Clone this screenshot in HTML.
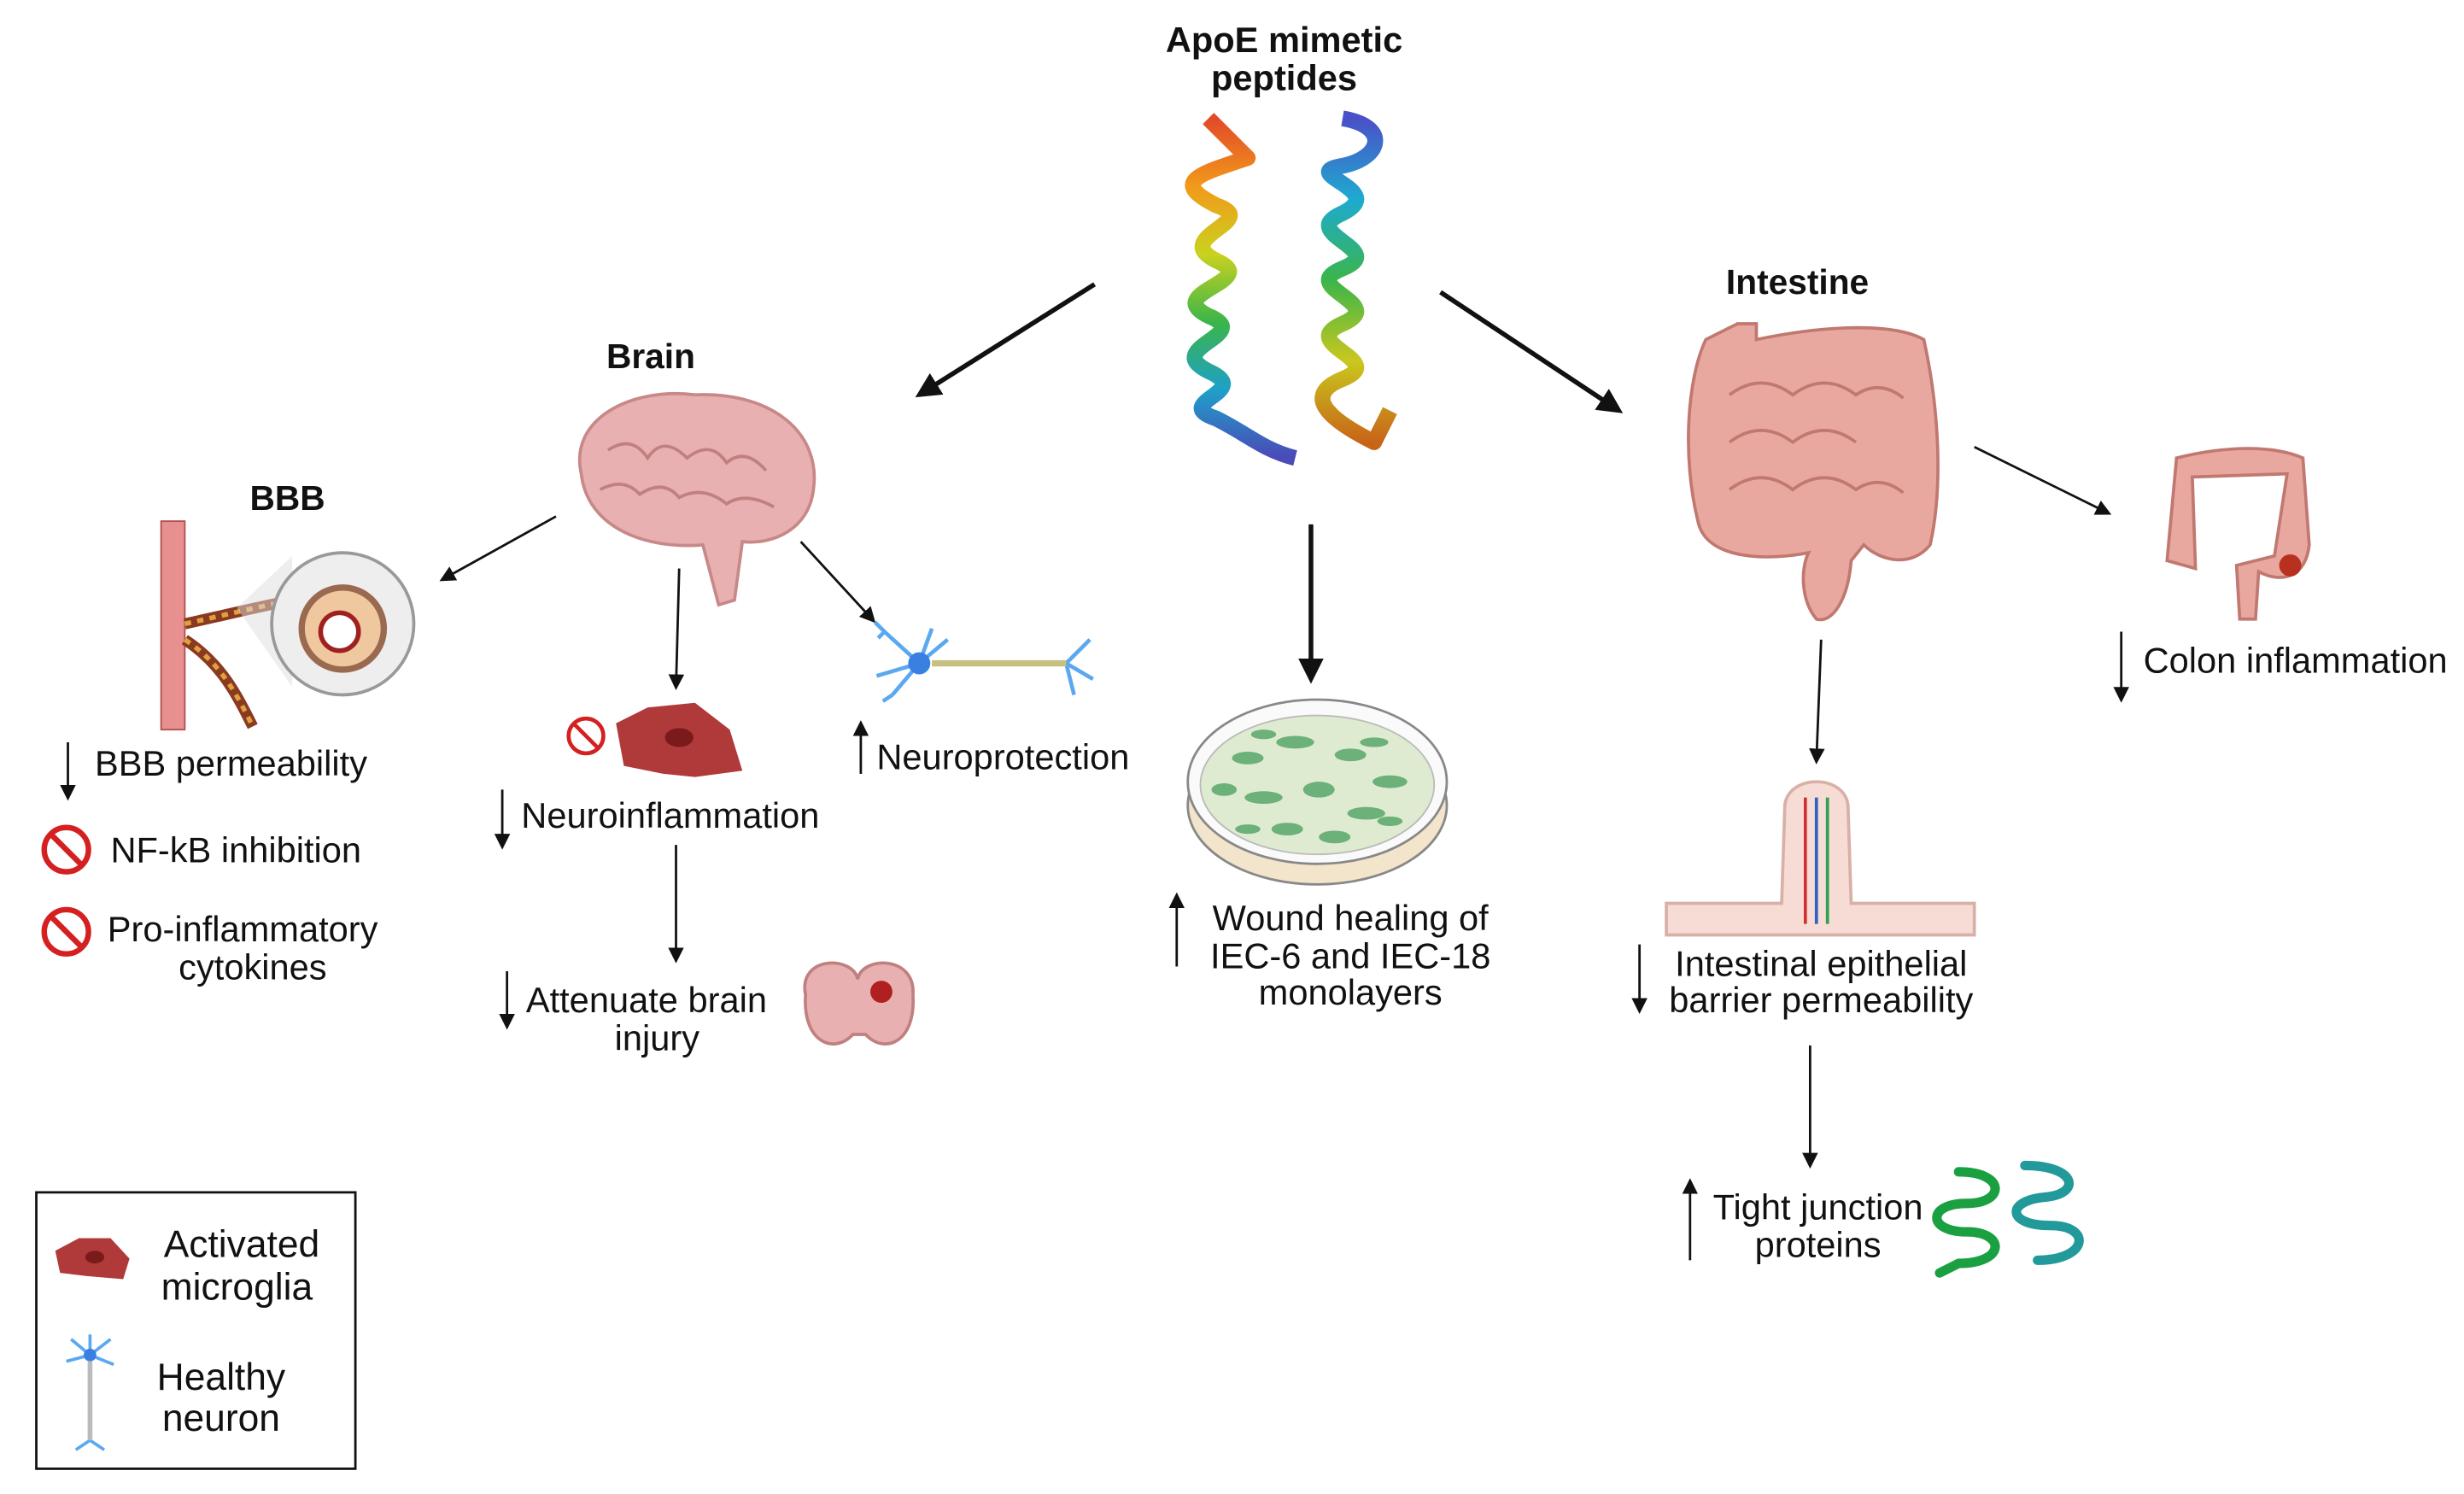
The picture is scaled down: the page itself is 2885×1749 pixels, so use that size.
<!DOCTYPE html>
<html><head><meta charset="utf-8"><style>
html,body{margin:0;padding:0;background:#fff;}
svg{display:block;}
text{font-family:"Liberation Sans",sans-serif;fill:#111;}
</style></head><body>
<svg width="2885" height="1749" viewBox="0 0 1560 946" preserveAspectRatio="none" xmlns="http://www.w3.org/2000/svg">
<defs>
<marker id="ah" markerWidth="10" markerHeight="10" refX="8" refY="5" orient="auto" markerUnits="userSpaceOnUse"><path d="M0,0 L10,5 L0,10 Z" fill="#111"/></marker>
<marker id="ahb" markerWidth="16" markerHeight="16" refX="13" refY="8" orient="auto" markerUnits="userSpaceOnUse"><path d="M0,0 L16,8 L0,16 Z" fill="#111"/></marker>
<linearGradient id="rb1" x1="0" y1="0" x2="0" y2="1"><stop offset="0" stop-color="#e24a2a"/><stop offset=".2" stop-color="#f29a1a"/><stop offset=".4" stop-color="#c9d21e"/><stop offset=".6" stop-color="#3bb54a"/><stop offset=".8" stop-color="#1ea0c8"/><stop offset="1" stop-color="#4a4ab8"/></linearGradient>
<linearGradient id="rb2" x1="0" y1="0" x2="0" y2="1"><stop offset="0" stop-color="#4a50c8"/><stop offset=".25" stop-color="#1eaad0"/><stop offset=".5" stop-color="#3bb54a"/><stop offset=".75" stop-color="#c9c81e"/><stop offset="1" stop-color="#c86418"/></linearGradient>
</defs>

<text x="813" y="33" font-size="22.5" font-weight="bold" text-anchor="middle">ApoE mimetic</text>
<text x="813" y="57" font-size="22.5" font-weight="bold" text-anchor="middle">peptides</text>

<path d="M765,75 L790,100 C760,110 740,115 770,130 C800,140 740,150 770,165 C800,178 735,185 765,200 C795,212 735,220 765,235 C795,248 740,255 770,265 C790,275 800,285 820,290" fill="none" stroke="url(#rb1)" stroke-width="10" stroke-linejoin="round"/>
<path d="M850,75 C880,80 875,100 850,105 C820,110 880,120 850,135 C820,148 880,158 850,170 C820,182 880,192 850,205 C820,218 880,228 850,240 C820,252 850,270 870,280 L880,260" fill="none" stroke="url(#rb2)" stroke-width="10" stroke-linejoin="round"/>

<line x1="693" y1="180" x2="582" y2="250" stroke="#111" stroke-width="3" marker-end="url(#ahb)"/>
<line x1="912" y1="185" x2="1025" y2="260" stroke="#111" stroke-width="3" marker-end="url(#ahb)"/>
<line x1="830" y1="332" x2="830" y2="430" stroke="#111" stroke-width="3" marker-end="url(#ahb)"/>

<text x="412" y="233" font-size="22" font-weight="bold" text-anchor="middle">Brain</text>
<path d="M368,300 C360,265 400,245 440,250 C490,248 520,275 515,310 C512,335 490,345 470,343 L465,380 L455,383 L445,345 C410,348 372,335 368,300 Z" fill="#e8b0b0" stroke="#c88888" stroke-width="2"/>
<path d="M385,285 q15,-10 25,5 q10,-15 25,0 q15,-12 25,3 q12,-10 25,5 M380,310 q15,-8 25,3 q15,-10 25,2 q15,-8 30,4 q12,-8 30,2" fill="none" stroke="#c08080" stroke-width="2"/>

<text x="1138" y="186" font-size="22" font-weight="bold" text-anchor="middle">Intestine</text>
<path d="M1100,205 L1112,205 L1112,215 C1160,205 1200,205 1218,215 C1228,260 1230,310 1222,345 C1210,360 1190,355 1180,345 L1172,355 C1170,380 1160,395 1150,392 C1140,380 1140,360 1145,350 C1120,355 1080,355 1075,330 C1065,290 1068,240 1080,215 Z" fill="#e8a8a0" stroke="#c07870" stroke-width="2"/>
<path d="M1095,250 q20,-15 40,0 q20,-15 40,0 q15,-10 30,2 M1095,280 q20,-15 40,0 q20,-15 40,0 M1095,310 q20,-15 40,0 q20,-15 40,0 q15,-10 30,2" fill="none" stroke="#c07870" stroke-width="2"/>

<text x="182" y="323" font-size="22" font-weight="bold" text-anchor="middle">BBB</text>
<rect x="102" y="330" width="15" height="132" fill="#e89090" stroke="#b05050"/>
<path d="M117,395 C140,390 160,385 185,380 M117,405 C140,420 150,440 160,460" fill="none" stroke="#8a3a20" stroke-width="7"/>
<path d="M117,395 C140,390 160,385 185,380 M117,405 C140,420 150,440 160,460" fill="none" stroke="#e0a040" stroke-width="3" stroke-dasharray="4 4"/>
<path d="M150,385 L185,352 L185,435 Z" fill="#ddd" opacity=".5"/>
<circle cx="217" cy="395" r="45" fill="#eee" stroke="#999" stroke-width="2"/>
<circle cx="217" cy="398" r="26" fill="#f0c8a0" stroke="#9a6a50" stroke-width="4"/>
<circle cx="215" cy="400" r="12" fill="#fff" stroke="#a02020" stroke-width="3"/>

<line x1="352" y1="327" x2="280" y2="367" stroke="#111" stroke-width="1.5" marker-end="url(#ah)"/>
<line x1="430" y1="360" x2="428" y2="435" stroke="#111" stroke-width="1.5" marker-end="url(#ah)"/>
<line x1="507" y1="343" x2="553" y2="393" stroke="#111" stroke-width="1.5" marker-end="url(#ah)"/>

<line x1="43" y1="470" x2="43" y2="505" stroke="#111" stroke-width="1.5" marker-end="url(#ah)"/>
<text x="60" y="491" font-size="22.5">BBB permeability</text>
<g fill="none" stroke="#d42020" stroke-width="3.5"><circle cx="42" cy="538" r="14"/><line x1="32" y1="528" x2="52" y2="548"/><circle cx="42" cy="590" r="14"/><line x1="32" y1="580" x2="52" y2="600"/></g>
<text x="70" y="546" font-size="22.5">NF-kB inhibition</text>
<text x="68" y="596" font-size="22.5">Pro-inflammatory</text>
<text x="160" y="620" font-size="22.5" text-anchor="middle">cytokines</text>

<g fill="none" stroke="#d42020" stroke-width="2.5"><circle cx="371" cy="466" r="11"/><line x1="363" y1="458" x2="379" y2="474"/></g>
<path d="M390,458 L410,448 L440,445 L462,462 L470,488 L440,492 L420,490 L395,485 Z" fill="#b03a3a"/>
<ellipse cx="430" cy="467" rx="9" ry="6" fill="#7a1a1a"/>
<line x1="318" y1="500" x2="318" y2="536" stroke="#111" stroke-width="1.5" marker-end="url(#ah)"/>
<text x="330" y="524" font-size="22.5">Neuroinflammation</text>
<line x1="428" y1="535" x2="428" y2="608" stroke="#111" stroke-width="1.5" marker-end="url(#ah)"/>
<line x1="321" y1="615" x2="321" y2="650" stroke="#111" stroke-width="1.5" marker-end="url(#ah)"/>
<text x="333" y="641" font-size="22.5">Attenuate brain</text>
<text x="416" y="665" font-size="22.5" text-anchor="middle">injury</text>
<path d="M510,630 C505,605 540,605 543,620 C546,605 580,605 578,630 C580,660 560,668 548,655 L540,655 C528,668 508,660 510,630 Z" fill="#e8b0b0" stroke="#c08080" stroke-width="2"/>
<circle cx="558" cy="628" r="7" fill="#b02020"/>

<g stroke="#5aa8f0" stroke-width="2.5" fill="none">
<path d="M582,420 L560,400 M582,420 L555,428 M582,420 L565,440 M582,420 L590,398 M582,420 L600,405 M560,400 l-6,-6 M560,400 l-4,4 M565,440 l-6,4"/>
<path d="M675,420 L690,405 M675,420 L692,430 M675,420 L680,440"/>
</g>
<line x1="590" y1="420" x2="675" y2="420" stroke="#c8c080" stroke-width="4"/>
<circle cx="582" cy="420" r="7" fill="#3a80e0"/>
<line x1="545" y1="490" x2="545" y2="458" stroke="#111" stroke-width="1.5" marker-end="url(#ah)"/>
<text x="555" y="487" font-size="22.5">Neuroprotection</text>

<ellipse cx="834" cy="510" rx="82" ry="50" fill="#f3e4cc" stroke="#888" stroke-width="1.5"/>
<ellipse cx="834" cy="495" rx="82" ry="52" fill="#fafafa" stroke="#888" stroke-width="1.5"/>
<ellipse cx="834" cy="497" rx="74" ry="44" fill="#dfebd0" stroke="#bbb"/>
<g fill="#6cb07a">
<ellipse cx="790" cy="480" rx="10" ry="4"/><ellipse cx="820" cy="470" rx="12" ry="4"/><ellipse cx="855" cy="478" rx="10" ry="4"/><ellipse cx="880" cy="495" rx="11" ry="4"/><ellipse cx="800" cy="505" rx="12" ry="4"/><ellipse cx="835" cy="500" rx="10" ry="5"/><ellipse cx="865" cy="515" rx="12" ry="4"/><ellipse cx="815" cy="525" rx="10" ry="4"/><ellipse cx="775" cy="500" rx="8" ry="4"/><ellipse cx="845" cy="530" rx="10" ry="4"/><ellipse cx="800" cy="465" rx="8" ry="3"/><ellipse cx="870" cy="470" rx="9" ry="3"/><ellipse cx="880" cy="520" rx="8" ry="3"/><ellipse cx="790" cy="525" rx="8" ry="3"/>
</g>
<line x1="745" y1="612" x2="745" y2="567" stroke="#111" stroke-width="1.5" marker-end="url(#ah)"/>
<text x="855" y="589" font-size="22.5" text-anchor="middle">Wound healing of</text>
<text x="855" y="613" font-size="22.5" text-anchor="middle">IEC-6 and IEC-18</text>
<text x="855" y="636" font-size="22.5" text-anchor="middle">monolayers</text>

<line x1="1250" y1="283" x2="1335" y2="325" stroke="#111" stroke-width="1.5" marker-end="url(#ah)"/>
<path d="M1378,290 C1410,282 1440,282 1458,290 L1462,345 C1460,365 1445,370 1430,362 L1428,392 L1418,392 L1416,358 L1440,352 L1448,300 L1388,302 L1390,360 L1372,355 Z" fill="#e8a8a0" stroke="#c07870" stroke-width="2"/>
<circle cx="1450" cy="358" r="7" fill="#b83020"/>
<line x1="1343" y1="400" x2="1343" y2="443" stroke="#111" stroke-width="1.5" marker-end="url(#ah)"/>
<text x="1357" y="426" font-size="22.5">Colon inflammation</text>

<line x1="1153" y1="405" x2="1150" y2="482" stroke="#111" stroke-width="1.5" marker-end="url(#ah)"/>
<path d="M1055,572 L1128,572 L1130,510 C1132,490 1168,490 1170,510 L1172,572 L1250,572 L1250,592 L1055,592 Z" fill="#f6dcd4" stroke="#d8b0a8" stroke-width="2"/>
<line x1="1143" y1="505" x2="1143" y2="585" stroke="#d03030" stroke-width="2"/>
<line x1="1150" y1="505" x2="1150" y2="585" stroke="#3060c0" stroke-width="2"/>
<line x1="1157" y1="505" x2="1157" y2="585" stroke="#30a050" stroke-width="2"/>
<line x1="1038" y1="598" x2="1038" y2="640" stroke="#111" stroke-width="1.5" marker-end="url(#ah)"/>
<text x="1153" y="618" font-size="22.5" text-anchor="middle">Intestinal epithelial</text>
<text x="1153" y="641" font-size="22.5" text-anchor="middle">barrier permeability</text>

<line x1="1146" y1="662" x2="1146" y2="738" stroke="#111" stroke-width="1.5" marker-end="url(#ah)"/>
<line x1="1070" y1="798" x2="1070" y2="748" stroke="#111" stroke-width="1.5" marker-end="url(#ah)"/>
<text x="1151" y="772" font-size="22.5" text-anchor="middle">Tight junction</text>
<text x="1151" y="796" font-size="22.5" text-anchor="middle">proteins</text>
<path d="M1240,742 C1270,742 1270,762 1245,762 C1220,762 1220,780 1245,780 C1270,780 1270,800 1240,800 L1228,806" fill="none" stroke="#1aa040" stroke-width="6" stroke-linecap="round"/>
<path d="M1282,738 C1315,738 1318,756 1295,758 C1270,760 1270,776 1298,776 C1325,776 1322,798 1290,798" fill="none" stroke="#22999a" stroke-width="6" stroke-linecap="round"/>

<rect x="23" y="755" width="202" height="175" fill="#fff" stroke="#111" stroke-width="1.5"/>
<path d="M35,792 L50,784 L70,784 L82,797 L78,810 L55,808 L38,806 Z" fill="#b03a3a"/>
<ellipse cx="60" cy="796" rx="6" ry="4" fill="#7a1a1a"/>
<text x="153" y="796" font-size="24" text-anchor="middle">Activated</text>
<text x="150" y="823" font-size="24" text-anchor="middle">microglia</text>
<g stroke="#5aa8f0" stroke-width="2" fill="none"><path d="M57,858 L45,848 M57,858 L70,848 M57,858 L42,862 M57,858 L72,864 M57,858 L57,845 M57,912 L48,918 M57,912 L66,918"/></g>
<line x1="57" y1="862" x2="57" y2="912" stroke="#bbb" stroke-width="3"/>
<circle cx="57" cy="858" r="4" fill="#3a80e0"/>
<text x="140" y="880" font-size="24" text-anchor="middle">Healthy</text>
<text x="140" y="906" font-size="24" text-anchor="middle">neuron</text>
</svg>
</body></html>
